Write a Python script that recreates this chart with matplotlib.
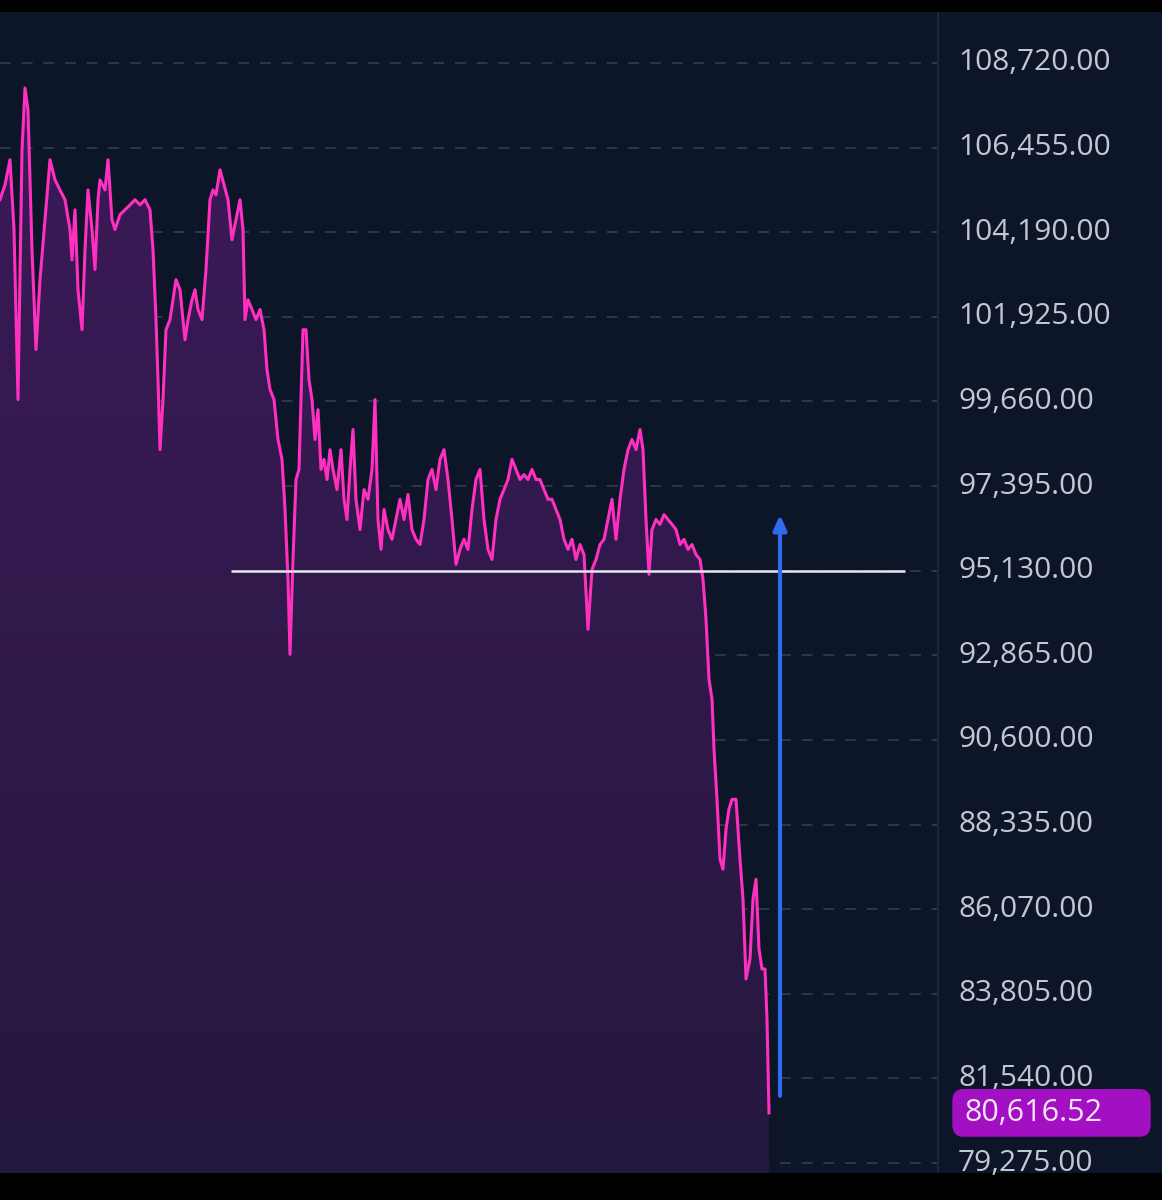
import matplotlib.pyplot as plt
import numpy as np
from matplotlib.patches import FancyBboxPatch
from matplotlib.colors import LinearSegmentedColormap

# time index and price
t = [0, 5, 10, 14, 18, 22, 25, 28, 32, 36, 40, 45, 50, 55, 60, 65, 70, 72, 75, 78, 82, 85, 88, 92, 95, 98,
     100, 105, 108, 112, 115, 120, 125, 130, 135, 140, 145, 150, 153, 156, 158, 160, 163, 166, 170, 173,
     176, 180, 185, 188, 192, 195, 198, 202, 206, 210, 213, 216, 220, 224, 228, 232, 236, 240, 243, 245,
     248, 252, 256, 260, 264, 267, 270, 274, 278, 282, 285, 288, 290, 293, 296, 299, 303, 306, 309, 312,
     315, 318, 321, 324, 327, 330, 333, 337, 341, 344, 347, 350, 353, 356, 360, 364, 368, 372, 375, 378,
     381, 384, 388, 392, 396, 400, 404, 408, 412, 416, 420, 424, 428, 432, 436, 440, 444, 448, 452, 456,
     460, 464, 468, 472, 476, 480, 484, 488, 492, 496, 500, 504, 508, 512, 516, 520, 524, 528, 532, 536,
     540, 544, 548, 552, 556, 560, 564, 568, 572, 576, 580, 584, 588, 592, 596, 600, 604, 608, 612, 616,
     620, 624, 628, 632, 636, 640, 643, 646, 649, 652, 656, 660, 664, 668, 672, 676, 680, 684, 688, 692,
     696, 700, 703, 706, 709, 712, 714, 717, 720, 723, 726, 729, 732, 736, 740, 743, 746, 750, 753, 756,
     759, 762, 765, 767, 769]
price = [105060, 105460, 106130, 104260, 99710, 106390, 108050, 107460, 103720, 101050, 102920, 104520,
         106130, 105590, 105320, 105060, 104260, 103450, 104790, 102650, 101580, 103720, 105320, 104260,
         103190, 105060, 105590, 105320, 106130, 104520, 104260, 104660, 104790, 104920, 105060, 104920,
         105060, 104790, 103720, 101850, 100240, 98370, 99710, 101580, 101850, 102380, 102920, 102650,
         101310, 101850, 102380, 102650, 102120, 101850, 103190, 105060, 105320, 105190, 105860, 105460,
         105060, 103990, 104520, 105060, 104260, 101850, 102380, 102120, 101850, 102120, 101580, 100510,
         99980, 99710, 98640, 98110, 96770, 94900, 92890, 95430, 97570, 97840, 101580, 101580, 100240,
         99710, 98640, 99440, 97840, 98110, 97570, 98370, 97840, 97300, 98370, 97040, 96500, 97840, 98910,
         97040, 96230, 97300, 97040, 97840, 99710, 96500, 95700, 96770, 96230, 95970, 96500, 97040, 96500,
         97170, 96230, 95970, 95830, 96500, 97570, 97840, 97300, 98110, 98370, 97570, 96500, 95300, 95700,
         95970, 95700, 96770, 97570, 97840, 96500, 95700, 95430, 96500, 97040, 97300, 97570, 98110, 97840,
         97570, 97700, 97570, 97840, 97570, 97570, 97300, 97040, 97040, 96770, 96500, 95970, 95700, 95970,
         95430, 95830, 95560, 93560, 95160, 95430, 95830, 95970, 96500, 97040, 95970, 97040, 97840, 98370,
         98640, 98370, 98910, 98370, 96500, 95030, 96230, 96500, 96370, 96630, 96500, 96370, 96230, 95830,
         95970, 95700, 95830, 95560, 95430, 94900, 93830, 92220, 91690, 90350, 89010, 87410, 87140, 88210,
         88750, 89010, 89010, 87410, 86340, 84200, 84740, 86340, 86870, 85000, 84470, 84470, 83130, 80617]

ticks = [108720, 106455, 104190, 101925, 99660, 97395, 95130, 92865, 90600, 88335, 86070, 83805, 81540, 79275]
support = 95130
last_price = 80616.52

bg = '#0d1528'
txt = '#c3c7d3'

fig = plt.figure(figsize=(11.62, 12), dpi=100, facecolor='black')
ax = fig.add_axes([0, 27 / 1200, 937 / 1162, 1161 / 1200])
ax.set_facecolor(bg)
ymin, ymax = 79008, 110084
ax.set_xlim(0, 937)
ax.set_ylim(ymin, ymax)

for v in ticks:
    ax.axhline(v, color='#303a4e', lw=1.3, ls=(0, (6, 6)), zorder=1)

# gradient fill under the line
grad = np.linspace(1, 0, 256).reshape(-1, 1)
cmap = LinearSegmentedColormap.from_list('g', ['#25183f', '#3c1a58'])
im = ax.imshow(grad, cmap=cmap, extent=[0, t[-1], ymin, max(price)], aspect='auto', zorder=2,
               origin='upper')
clip = plt.Polygon(np.column_stack([t + [t[-1], t[0]], price + [ymin, ymin]]), transform=ax.transData)
im.set_clip_path(clip)
ax.plot(t, price, color='#ff2fc0', lw=2.2, zorder=4)

ax.hlines(support, 231, 905, color='#e6e6ee', lw=1.8, zorder=5)
ax.annotate('', xy=(780, 96700), xytext=(780, 81000),
            arrowprops=dict(arrowstyle='-|>,head_length=0.9,head_width=0.4', color='#2f6bef', lw=3),
            zorder=6)
ax.set_xticks([])
ax.set_yticks([])
for s in ax.spines.values():
    s.set_visible(False)

# right price scale
ax2 = fig.add_axes([937 / 1162, 27 / 1200, 225 / 1162, 1161 / 1200])
ax2.set_facecolor(bg)
ax2.set_xlim(0, 225)
ax2.set_ylim(ymin, ymax)
ax2.axvline(1, color='#1d2538', lw=1.5)
for v in ticks:
    ax2.text(21, v, f'{v:,.2f}', color=txt, fontsize=21.5, family='Open Sans', va='center', ha='left')
box = FancyBboxPatch((16, last_price - 620), 197, 1240, boxstyle='round,pad=0,rounding_size=10',
                     mutation_aspect=30, color='#a30fc2', zorder=3)
ax2.add_patch(box)
ax2.text(28, last_price, f'{last_price:,.2f}', color='#f4e6f6', fontsize=22, family='Open Sans',
         va='center', ha='left', zorder=4)
ax2.set_xticks([])
ax2.set_yticks([])
for s in ax2.spines.values():
    s.set_visible(False)

fig.savefig('out.png', dpi=100, facecolor='black')
